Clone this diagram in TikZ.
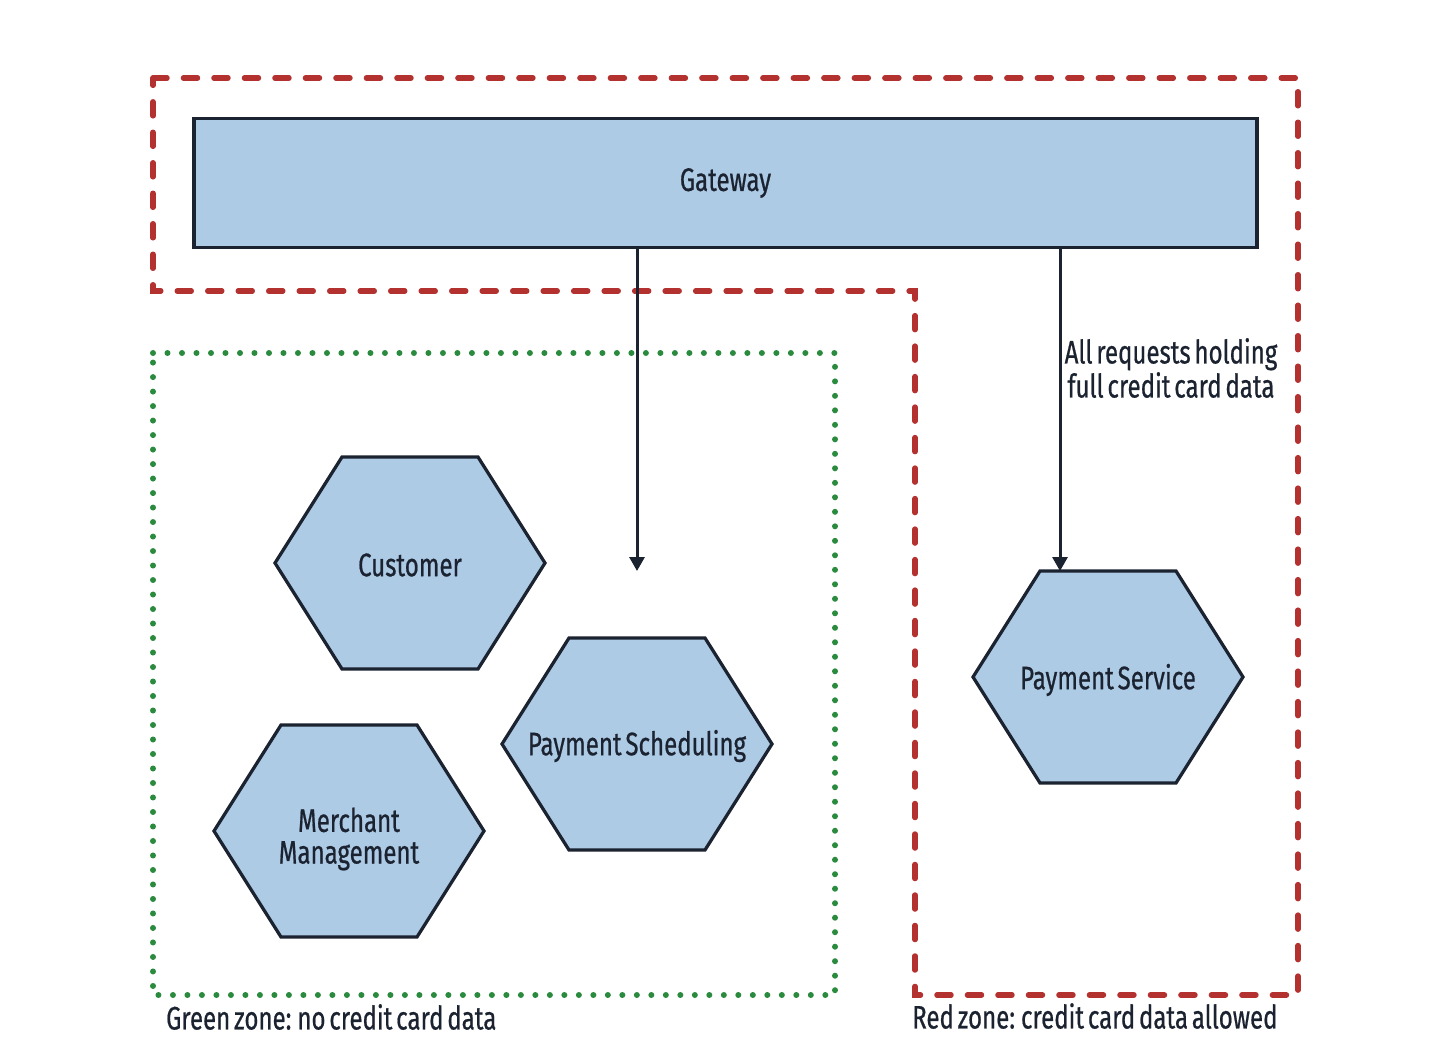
\documentclass[tikz,border=0pt]{standalone}
\usepackage{fontspec}
\setmainfont{Fira Sans}[FakeStretch=0.74, FakeBold=0.6, WordSpace=0.6]
\usetikzlibrary{arrows.meta}
\definecolor{cellblue}{HTML}{AECBE6}
\definecolor{zonered}{HTML}{B3312F}
\definecolor{zonegreen}{HTML}{2A8A3E}
\definecolor{ink}{HTML}{1B2230}

\begin{document}
\begin{tikzpicture}[x=0.02cm,y=-0.02cm,
		every node/.style={font=\fontsize{18.5}{18}\selectfont, text=ink},
		cell/.style={draw=ink, line width=0.065cm, fill=cellblue, line join=miter},
		redzone/.style={draw=zonered, line width=0.11cm, line cap=round, dash pattern=on 0.28cm off 0.33cm},
		greenzone/.style={draw=zonegreen, line width=0.12cm, line cap=round, dash pattern=on 0cm off 0.29cm},
		flow/.style={draw=ink, line width=0.06cm, -{Triangle[length=0.28cm,width=0.3cm]}}]
		\useasboundingbox (0,0) rectangle (1456,1050);
		% zones
		\draw [redzone] (153,78) -- (1298,78) -- (1298,995) -- (915,995) -- (915,291) -- (153,291) -- cycle;
		\draw [greenzone] (153,353) -- (835,353) -- (835,995) -- (153,995) -- cycle;
		% gateway
		\node [cell, rectangle, minimum width=21.26cm, minimum height=2.58cm] (gw) at (725.5,183) {Gateway};
		% hexagons
		\foreach \n/\x/\y in {cust/410/563, sched/637/744, merch/349/831, psvc/1108/677} {
			\draw [cell] (\x-135,\y) -- (\x-68,\y-106) -- (\x+68,\y-106) -- (\x+135,\y)
				-- (\x+68,\y+106) -- (\x-68,\y+106) -- cycle;
			\coordinate (\n) at (\x,\y);
		}
		\node (custtext) at (410,565) {Customer};
		\node (schedtext) at (637,746) {Payment Scheduling};
		\node [align=center] (merchtext) at (349,839) {Merchant\\Management};
		\node (psvctext) at (1108,680) {Payment Service};
		% requests
		\coordinate (drop) at (637,571);
		\coordinate (psvctop) at (1060,571);
		\draw [flow] (gw.south -| drop) -- (drop);
		\draw [flow] (gw.south -| psvctop) -- (psvctop);
		\node [align=center] (fullcard) at (1171,368) {All requests holding\\full credit card data};
		% zone labels
		\node [anchor=west] (greenlabel) at (160,1017) {Green zone: no credit card data};
		\node [anchor=west] (redlabel) at (906,1016) {Red zone: credit card data allowed};
	\end{tikzpicture}
\end{document}
